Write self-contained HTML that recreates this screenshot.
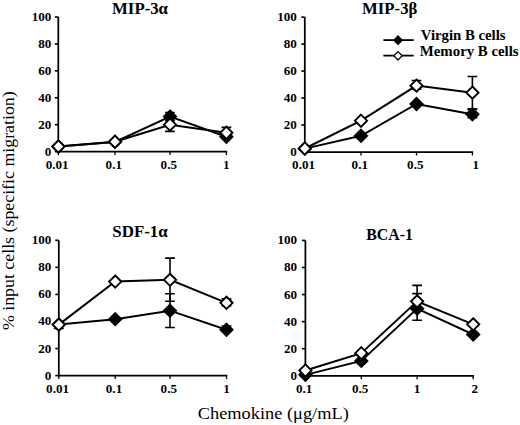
<!DOCTYPE html>
<html><head><meta charset="utf-8"><style>
html,body{margin:0;padding:0;background:#fff;width:520px;height:425px;overflow:hidden}
svg{display:block}
text{font-family:"Liberation Serif",serif}
</style></head><body>
<svg width="520" height="425" viewBox="0 0 520 425" font-family='"Liberation Serif", serif' fill="#000"><path d="M58.3,17.0 V151.6 H227.20" fill="none" stroke="#000" stroke-width="1.75"/>
<line x1="54.80" y1="151.60" x2="58.3" y2="151.60" stroke="#000" stroke-width="1.6"/>
<text transform="translate(51.40,155.60) scale(0.98,1)" text-anchor="end" font-weight="bold" font-size="13.4">0</text>
<line x1="54.80" y1="124.68" x2="58.3" y2="124.68" stroke="#000" stroke-width="1.6"/>
<text transform="translate(51.40,128.68) scale(0.98,1)" text-anchor="end" font-weight="bold" font-size="13.4">20</text>
<line x1="54.80" y1="97.76" x2="58.3" y2="97.76" stroke="#000" stroke-width="1.6"/>
<text transform="translate(51.40,101.76) scale(0.98,1)" text-anchor="end" font-weight="bold" font-size="13.4">40</text>
<line x1="54.80" y1="70.84" x2="58.3" y2="70.84" stroke="#000" stroke-width="1.6"/>
<text transform="translate(51.40,74.84) scale(0.98,1)" text-anchor="end" font-weight="bold" font-size="13.4">60</text>
<line x1="54.80" y1="43.92" x2="58.3" y2="43.92" stroke="#000" stroke-width="1.6"/>
<text transform="translate(51.40,47.92) scale(0.98,1)" text-anchor="end" font-weight="bold" font-size="13.4">80</text>
<line x1="54.80" y1="17.00" x2="58.3" y2="17.00" stroke="#000" stroke-width="1.6"/>
<text transform="translate(51.40,21.00) scale(0.98,1)" text-anchor="end" font-weight="bold" font-size="13.4">100</text>
<line x1="58.4" y1="151.6" x2="58.4" y2="155.10" stroke="#000" stroke-width="1.3"/>
<text transform="translate(57.20,169.00) scale(0.98,1)" text-anchor="middle" font-weight="bold" font-size="13.4">0.01</text>
<line x1="115.0" y1="151.6" x2="115.0" y2="155.10" stroke="#000" stroke-width="1.3"/>
<text transform="translate(113.80,169.00) scale(0.98,1)" text-anchor="middle" font-weight="bold" font-size="13.4">0.1</text>
<line x1="170.0" y1="151.6" x2="170.0" y2="155.10" stroke="#000" stroke-width="1.3"/>
<text transform="translate(168.80,169.00) scale(0.98,1)" text-anchor="middle" font-weight="bold" font-size="13.4">0.5</text>
<line x1="226.4" y1="151.6" x2="226.4" y2="155.10" stroke="#000" stroke-width="1.3"/>
<text transform="translate(226.40,169.00) scale(0.98,1)" text-anchor="middle" font-weight="bold" font-size="13.4">1</text>
<text x="112.0" y="13.7" font-weight="bold" font-size="15.8" textLength="56.00" lengthAdjust="spacingAndGlyphs">MIP-3α</text>
<polyline points="58.4,146.49 115.0,141.91 170.0,116.60 226.4,136.79" fill="none" stroke="#000" stroke-width="2.0"/>
<polyline points="58.4,146.49 115.0,141.77 170.0,124.68 226.4,132.76" fill="none" stroke="#000" stroke-width="2.0"/>
<path d="M170.0,120.64 V112.57 M165.10,120.64 h9.8 M165.10,112.57 h9.8" stroke="#000" stroke-width="1.6" fill="none"/>
<path d="M170.0,131.41 V117.95 M165.10,131.41 h9.8 M165.10,117.95 h9.8" stroke="#000" stroke-width="1.6" fill="none"/>
<path d="M226.4,135.45 V127.37 M221.50,135.45 h9.8 M221.50,127.37 h9.8" stroke="#000" stroke-width="1.6" fill="none"/>
<polygon points="58.40,140.39 64.50,146.49 58.40,152.59 52.30,146.49" fill="#000" stroke="#000" stroke-width="1.9" stroke-linejoin="miter"/>
<polygon points="115.00,135.81 121.10,141.91 115.00,148.01 108.90,141.91" fill="#000" stroke="#000" stroke-width="1.9" stroke-linejoin="miter"/>
<polygon points="170.00,110.50 176.10,116.60 170.00,122.70 163.90,116.60" fill="#000" stroke="#000" stroke-width="1.9" stroke-linejoin="miter"/>
<polygon points="226.40,130.69 232.50,136.79 226.40,142.89 220.30,136.79" fill="#000" stroke="#000" stroke-width="1.9" stroke-linejoin="miter"/>
<polygon points="58.40,140.39 64.50,146.49 58.40,152.59 52.30,146.49" fill="#fff" stroke="#000" stroke-width="1.9" stroke-linejoin="miter"/>
<polygon points="115.00,135.67 121.10,141.77 115.00,147.87 108.90,141.77" fill="#fff" stroke="#000" stroke-width="1.9" stroke-linejoin="miter"/>
<polygon points="170.00,118.58 176.10,124.68 170.00,130.78 163.90,124.68" fill="#fff" stroke="#000" stroke-width="1.9" stroke-linejoin="miter"/>
<polygon points="226.40,126.66 232.50,132.76 226.40,138.86 220.30,132.76" fill="#fff" stroke="#000" stroke-width="1.9" stroke-linejoin="miter"/>
<path d="M304.8,17.1 V152.0 H473.20" fill="none" stroke="#000" stroke-width="1.75"/>
<line x1="301.30" y1="152.00" x2="304.8" y2="152.00" stroke="#000" stroke-width="1.6"/>
<text transform="translate(296.80,156.00) scale(0.98,1)" text-anchor="end" font-weight="bold" font-size="13.4">0</text>
<line x1="301.30" y1="125.02" x2="304.8" y2="125.02" stroke="#000" stroke-width="1.6"/>
<text transform="translate(296.80,129.02) scale(0.98,1)" text-anchor="end" font-weight="bold" font-size="13.4">20</text>
<line x1="301.30" y1="98.04" x2="304.8" y2="98.04" stroke="#000" stroke-width="1.6"/>
<text transform="translate(296.80,102.04) scale(0.98,1)" text-anchor="end" font-weight="bold" font-size="13.4">40</text>
<line x1="301.30" y1="71.06" x2="304.8" y2="71.06" stroke="#000" stroke-width="1.6"/>
<text transform="translate(296.80,75.06) scale(0.98,1)" text-anchor="end" font-weight="bold" font-size="13.4">60</text>
<line x1="301.30" y1="44.08" x2="304.8" y2="44.08" stroke="#000" stroke-width="1.6"/>
<text transform="translate(296.80,48.08) scale(0.98,1)" text-anchor="end" font-weight="bold" font-size="13.4">80</text>
<line x1="301.30" y1="17.10" x2="304.8" y2="17.10" stroke="#000" stroke-width="1.6"/>
<text transform="translate(296.80,21.10) scale(0.98,1)" text-anchor="end" font-weight="bold" font-size="13.4">100</text>
<line x1="304.8" y1="152.0" x2="304.8" y2="155.50" stroke="#000" stroke-width="1.3"/>
<text transform="translate(303.60,169.40) scale(0.98,1)" text-anchor="middle" font-weight="bold" font-size="13.4">0.01</text>
<line x1="361.0" y1="152.0" x2="361.0" y2="155.50" stroke="#000" stroke-width="1.3"/>
<text transform="translate(359.80,169.40) scale(0.98,1)" text-anchor="middle" font-weight="bold" font-size="13.4">0.1</text>
<line x1="416.5" y1="152.0" x2="416.5" y2="155.50" stroke="#000" stroke-width="1.3"/>
<text transform="translate(415.30,169.40) scale(0.98,1)" text-anchor="middle" font-weight="bold" font-size="13.4">0.5</text>
<line x1="472.4" y1="152.0" x2="472.4" y2="155.50" stroke="#000" stroke-width="1.3"/>
<text transform="translate(475.80,169.40) scale(0.98,1)" text-anchor="middle" font-weight="bold" font-size="13.4">1</text>
<text x="362.1" y="13.5" font-weight="bold" font-size="15.8" textLength="55.20" lengthAdjust="spacingAndGlyphs">MIP-3β</text>
<polyline points="304.8,148.63 361.0,135.81 416.5,103.98 472.4,114.23" fill="none" stroke="#000" stroke-width="2.0"/>
<polyline points="304.8,148.49 361.0,120.70 416.5,85.63 472.4,92.64" fill="none" stroke="#000" stroke-width="2.0"/>
<path d="M472.4,117.60 V109.51 M467.50,117.60 h9.8 M467.50,109.51 h9.8" stroke="#000" stroke-width="1.6" fill="none"/>
<path d="M416.5,89.27 V80.50 M411.60,89.27 h9.8 M411.60,80.50 h9.8" stroke="#000" stroke-width="1.6" fill="none"/>
<path d="M472.4,108.83 V76.46 M467.50,108.83 h9.8 M467.50,76.46 h9.8" stroke="#000" stroke-width="1.6" fill="none"/>
<polygon points="304.80,142.53 310.90,148.63 304.80,154.73 298.70,148.63" fill="#000" stroke="#000" stroke-width="1.9" stroke-linejoin="miter"/>
<polygon points="361.00,129.71 367.10,135.81 361.00,141.91 354.90,135.81" fill="#000" stroke="#000" stroke-width="1.9" stroke-linejoin="miter"/>
<polygon points="416.50,97.88 422.60,103.98 416.50,110.08 410.40,103.98" fill="#000" stroke="#000" stroke-width="1.9" stroke-linejoin="miter"/>
<polygon points="472.40,108.13 478.50,114.23 472.40,120.33 466.30,114.23" fill="#000" stroke="#000" stroke-width="1.9" stroke-linejoin="miter"/>
<polygon points="304.80,142.39 310.90,148.49 304.80,154.59 298.70,148.49" fill="#fff" stroke="#000" stroke-width="1.9" stroke-linejoin="miter"/>
<polygon points="361.00,114.60 367.10,120.70 361.00,126.80 354.90,120.70" fill="#fff" stroke="#000" stroke-width="1.9" stroke-linejoin="miter"/>
<polygon points="416.50,79.53 422.60,85.63 416.50,91.73 410.40,85.63" fill="#fff" stroke="#000" stroke-width="1.9" stroke-linejoin="miter"/>
<polygon points="472.40,86.54 478.50,92.64 472.40,98.74 466.30,92.64" fill="#fff" stroke="#000" stroke-width="1.9" stroke-linejoin="miter"/>
<path d="M58.8,240.3 V375.6 H227.30" fill="none" stroke="#000" stroke-width="1.75"/>
<line x1="55.30" y1="375.60" x2="58.8" y2="375.60" stroke="#000" stroke-width="1.6"/>
<text transform="translate(51.40,379.60) scale(0.98,1)" text-anchor="end" font-weight="bold" font-size="13.4">0</text>
<line x1="55.30" y1="348.54" x2="58.8" y2="348.54" stroke="#000" stroke-width="1.6"/>
<text transform="translate(51.40,352.54) scale(0.98,1)" text-anchor="end" font-weight="bold" font-size="13.4">20</text>
<line x1="55.30" y1="321.48" x2="58.8" y2="321.48" stroke="#000" stroke-width="1.6"/>
<text transform="translate(51.40,325.48) scale(0.98,1)" text-anchor="end" font-weight="bold" font-size="13.4">40</text>
<line x1="55.30" y1="294.42" x2="58.8" y2="294.42" stroke="#000" stroke-width="1.6"/>
<text transform="translate(51.40,298.42) scale(0.98,1)" text-anchor="end" font-weight="bold" font-size="13.4">60</text>
<line x1="55.30" y1="267.36" x2="58.8" y2="267.36" stroke="#000" stroke-width="1.6"/>
<text transform="translate(51.40,271.36) scale(0.98,1)" text-anchor="end" font-weight="bold" font-size="13.4">80</text>
<line x1="55.30" y1="240.30" x2="58.8" y2="240.30" stroke="#000" stroke-width="1.6"/>
<text transform="translate(51.40,244.30) scale(0.98,1)" text-anchor="end" font-weight="bold" font-size="13.4">100</text>
<line x1="58.8" y1="375.6" x2="58.8" y2="379.10" stroke="#000" stroke-width="1.3"/>
<text transform="translate(57.60,393.00) scale(0.98,1)" text-anchor="middle" font-weight="bold" font-size="13.4">0.01</text>
<line x1="115.2" y1="375.6" x2="115.2" y2="379.10" stroke="#000" stroke-width="1.3"/>
<text transform="translate(114.00,393.00) scale(0.98,1)" text-anchor="middle" font-weight="bold" font-size="13.4">0.1</text>
<line x1="170.0" y1="375.6" x2="170.0" y2="379.10" stroke="#000" stroke-width="1.3"/>
<text transform="translate(168.80,393.00) scale(0.98,1)" text-anchor="middle" font-weight="bold" font-size="13.4">0.5</text>
<line x1="226.5" y1="375.6" x2="226.5" y2="379.10" stroke="#000" stroke-width="1.3"/>
<text transform="translate(226.50,393.00) scale(0.98,1)" text-anchor="middle" font-weight="bold" font-size="13.4">1</text>
<text x="112.3" y="236.9" font-weight="bold" font-size="15.8" textLength="55.40" lengthAdjust="spacingAndGlyphs">SDF-1α</text>
<polyline points="58.8,324.59 115.2,319.18 170.0,310.66 226.5,329.73" fill="none" stroke="#000" stroke-width="2.0"/>
<polyline points="58.8,324.59 115.2,281.57 170.0,279.81 226.5,302.81" fill="none" stroke="#000" stroke-width="2.0"/>
<path d="M58.8,328.52 V324.59 M53.90,328.52 h9.8 M53.90,324.59 h9.8" stroke="#000" stroke-width="1.6" fill="none"/>
<path d="M170.0,327.57 V293.74 M165.10,327.57 h9.8 M165.10,293.74 h9.8" stroke="#000" stroke-width="1.6" fill="none"/>
<path d="M226.5,330.95 V325.94 M221.60,330.95 h9.8 M221.60,325.94 h9.8" stroke="#000" stroke-width="1.6" fill="none"/>
<path d="M170.0,301.19 V258.16 M165.10,301.19 h9.8 M165.10,258.16 h9.8" stroke="#000" stroke-width="1.6" fill="none"/>
<path d="M226.5,305.92 V298.88 M221.60,305.92 h9.8 M221.60,298.88 h9.8" stroke="#000" stroke-width="1.6" fill="none"/>
<polygon points="58.80,318.49 64.90,324.59 58.80,330.69 52.70,324.59" fill="#000" stroke="#000" stroke-width="1.9" stroke-linejoin="miter"/>
<polygon points="115.20,313.08 121.30,319.18 115.20,325.28 109.10,319.18" fill="#000" stroke="#000" stroke-width="1.9" stroke-linejoin="miter"/>
<polygon points="170.00,304.56 176.10,310.66 170.00,316.76 163.90,310.66" fill="#000" stroke="#000" stroke-width="1.9" stroke-linejoin="miter"/>
<polygon points="226.50,323.63 232.60,329.73 226.50,335.83 220.40,329.73" fill="#000" stroke="#000" stroke-width="1.9" stroke-linejoin="miter"/>
<polygon points="58.80,318.49 64.90,324.59 58.80,330.69 52.70,324.59" fill="#fff" stroke="#000" stroke-width="1.9" stroke-linejoin="miter"/>
<polygon points="115.20,275.47 121.30,281.57 115.20,287.67 109.10,281.57" fill="#fff" stroke="#000" stroke-width="1.9" stroke-linejoin="miter"/>
<polygon points="170.00,273.71 176.10,279.81 170.00,285.91 163.90,279.81" fill="#fff" stroke="#000" stroke-width="1.9" stroke-linejoin="miter"/>
<polygon points="226.50,296.71 232.60,302.81 226.50,308.91 220.40,302.81" fill="#fff" stroke="#000" stroke-width="1.9" stroke-linejoin="miter"/>
<path d="M305.4,240.4 V375.8 H474.00" fill="none" stroke="#000" stroke-width="1.75"/>
<line x1="301.90" y1="375.80" x2="305.4" y2="375.80" stroke="#000" stroke-width="1.6"/>
<text transform="translate(297.10,379.80) scale(0.98,1)" text-anchor="end" font-weight="bold" font-size="13.4">0</text>
<line x1="301.90" y1="348.72" x2="305.4" y2="348.72" stroke="#000" stroke-width="1.6"/>
<text transform="translate(297.10,352.72) scale(0.98,1)" text-anchor="end" font-weight="bold" font-size="13.4">20</text>
<line x1="301.90" y1="321.64" x2="305.4" y2="321.64" stroke="#000" stroke-width="1.6"/>
<text transform="translate(297.10,325.64) scale(0.98,1)" text-anchor="end" font-weight="bold" font-size="13.4">40</text>
<line x1="301.90" y1="294.56" x2="305.4" y2="294.56" stroke="#000" stroke-width="1.6"/>
<text transform="translate(297.10,298.56) scale(0.98,1)" text-anchor="end" font-weight="bold" font-size="13.4">60</text>
<line x1="301.90" y1="267.48" x2="305.4" y2="267.48" stroke="#000" stroke-width="1.6"/>
<text transform="translate(297.10,271.48) scale(0.98,1)" text-anchor="end" font-weight="bold" font-size="13.4">80</text>
<line x1="301.90" y1="240.40" x2="305.4" y2="240.40" stroke="#000" stroke-width="1.6"/>
<text transform="translate(297.10,244.40) scale(0.98,1)" text-anchor="end" font-weight="bold" font-size="13.4">100</text>
<line x1="305.4" y1="375.8" x2="305.4" y2="379.30" stroke="#000" stroke-width="1.3"/>
<text transform="translate(304.20,393.20) scale(0.98,1)" text-anchor="middle" font-weight="bold" font-size="13.4">0.1</text>
<line x1="361.3" y1="375.8" x2="361.3" y2="379.30" stroke="#000" stroke-width="1.3"/>
<text transform="translate(360.10,393.20) scale(0.98,1)" text-anchor="middle" font-weight="bold" font-size="13.4">0.5</text>
<line x1="417.1" y1="375.8" x2="417.1" y2="379.30" stroke="#000" stroke-width="1.3"/>
<text transform="translate(417.10,393.20) scale(0.98,1)" text-anchor="middle" font-weight="bold" font-size="13.4">1</text>
<line x1="473.2" y1="375.8" x2="473.2" y2="379.30" stroke="#000" stroke-width="1.3"/>
<text transform="translate(474.70,393.20) scale(0.98,1)" text-anchor="middle" font-weight="bold" font-size="13.4">2</text>
<text x="366.2" y="240.0" font-weight="bold" font-size="15.8" textLength="46.90" lengthAdjust="spacingAndGlyphs">BCA-1</text>
<polyline points="305.4,374.85 361.3,360.91 417.1,308.64 473.2,334.50" fill="none" stroke="#000" stroke-width="2.0"/>
<polyline points="305.4,370.52 361.3,353.19 417.1,301.33 473.2,324.35" fill="none" stroke="#000" stroke-width="2.0"/>
<path d="M417.1,320.29 V293.61 M412.20,320.29 h9.8 M412.20,293.61 h9.8" stroke="#000" stroke-width="1.6" fill="none"/>
<path d="M417.1,309.45 V285.35 M412.20,309.45 h9.8 M412.20,285.35 h9.8" stroke="#000" stroke-width="1.6" fill="none"/>
<polygon points="305.40,368.75 311.50,374.85 305.40,380.95 299.30,374.85" fill="#000" stroke="#000" stroke-width="1.9" stroke-linejoin="miter"/>
<polygon points="361.30,354.81 367.40,360.91 361.30,367.01 355.20,360.91" fill="#000" stroke="#000" stroke-width="1.9" stroke-linejoin="miter"/>
<polygon points="417.10,302.54 423.20,308.64 417.10,314.74 411.00,308.64" fill="#000" stroke="#000" stroke-width="1.9" stroke-linejoin="miter"/>
<polygon points="473.20,328.40 479.30,334.50 473.20,340.60 467.10,334.50" fill="#000" stroke="#000" stroke-width="1.9" stroke-linejoin="miter"/>
<polygon points="305.40,364.42 311.50,370.52 305.40,376.62 299.30,370.52" fill="#fff" stroke="#000" stroke-width="1.9" stroke-linejoin="miter"/>
<polygon points="361.30,347.09 367.40,353.19 361.30,359.29 355.20,353.19" fill="#fff" stroke="#000" stroke-width="1.9" stroke-linejoin="miter"/>
<polygon points="417.10,295.23 423.20,301.33 417.10,307.43 411.00,301.33" fill="#fff" stroke="#000" stroke-width="1.9" stroke-linejoin="miter"/>
<polygon points="473.20,318.25 479.30,324.35 473.20,330.45 467.10,324.35" fill="#fff" stroke="#000" stroke-width="1.9" stroke-linejoin="miter"/>
<line x1="383.4" y1="40.1" x2="413.7" y2="40.1" stroke="#000" stroke-width="1.8"/>
<polygon points="398.00,36.00 402.20,40.20 398.00,44.40 393.80,40.20" fill="#000" stroke="#000" stroke-width="1.3" stroke-linejoin="miter"/>
<line x1="383.4" y1="55.6" x2="413.7" y2="55.6" stroke="#000" stroke-width="1.8"/>
<polygon points="398.00,51.60 402.20,55.80 398.00,60.00 393.80,55.80" fill="#fff" stroke="#000" stroke-width="1.3" stroke-linejoin="miter"/>
<text x="420.8" y="40.0" font-weight="bold" font-size="14" textLength="84.7" lengthAdjust="spacingAndGlyphs">Virgin B cells</text>
<text x="419.8" y="55.8" font-weight="bold" font-size="14" textLength="98.8" lengthAdjust="spacingAndGlyphs">Memory B cells</text>
<text transform="translate(13.6,330.1) rotate(-90)" x="0" y="0" font-size="17" textLength="238.8" lengthAdjust="spacingAndGlyphs">% input cells (specific migration)</text>
<text x="197.8" y="418.8" font-size="17" textLength="151" lengthAdjust="spacingAndGlyphs">Chemokine (μg/mL)</text></svg>
</body></html>
